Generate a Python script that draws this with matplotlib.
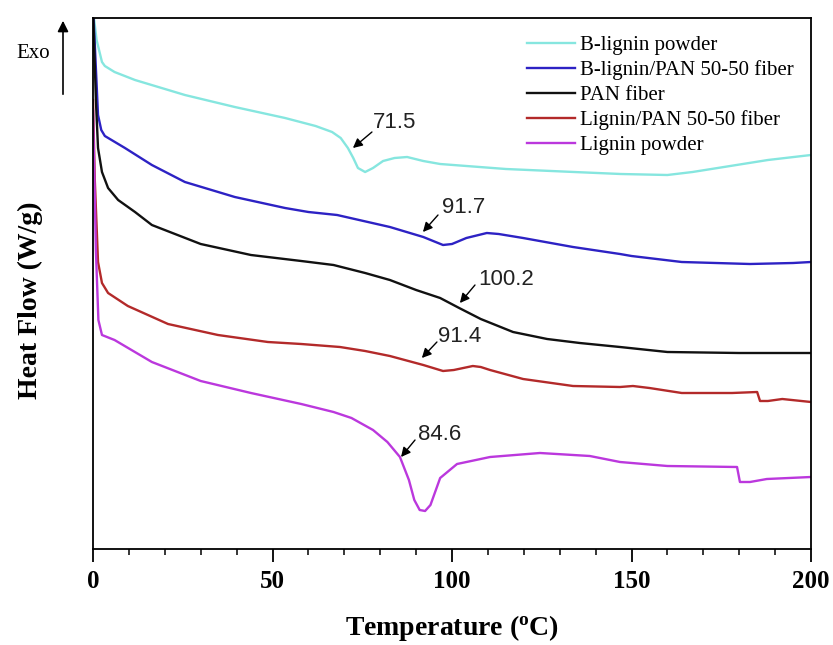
import matplotlib
matplotlib.use("Agg")
import matplotlib.pyplot as plt

# DSC curves (arbitrary heat flow units, exo up)
t_bl = [0, 1, 2.5, 3.3, 6, 11.7, 25.6, 39.5, 53.5, 62, 66.6, 69, 71, 72.5, 73.8, 75.8, 78,
        80.8, 84, 87.5, 92, 96.7, 115, 134, 147, 160, 167, 174, 188, 200]
hf_bl = [5.39, 5.09, 4.87, 4.83, 4.77, 4.69, 4.54, 4.42, 4.31, 4.23, 4.17, 4.11, 4.01, 3.91,
         3.81, 3.77, 3.81, 3.88, 3.91, 3.92, 3.88, 3.85, 3.80, 3.77, 3.75, 3.74, 3.77, 3.81,
         3.89, 3.94]

t_blpan = [0, 0.7, 1.4, 2.3, 3.3, 8.9, 16.4, 25.6, 39.5, 53.5, 60, 68, 82.7, 92, 97.5, 100,
           104, 109.7, 113, 119.8, 133.7, 146.8, 150, 164, 183, 195, 200]
hf_blpan = [5.44, 4.89, 4.34, 4.19, 4.13, 4.01, 3.84, 3.67, 3.52, 3.41, 3.37, 3.34, 3.22,
            3.12, 3.04, 3.05, 3.11, 3.16, 3.15, 3.11, 3.02, 2.95, 2.93, 2.87, 2.85, 2.86, 2.87]

t_pan = [0, 0.8, 1.4, 2.5, 4.2, 7, 11.7, 16.4, 30, 44, 58, 67, 75.8, 82.7, 90, 96.7, 102,
         108, 117, 126.5, 135.6, 146.8, 160, 180, 200]
hf_pan = [5.44, 4.49, 4.01, 3.77, 3.61, 3.49, 3.37, 3.24, 3.05, 2.94, 2.88, 2.84, 2.76, 2.69,
          2.59, 2.51, 2.41, 2.30, 2.17, 2.10, 2.06, 2.02, 1.97, 1.96, 1.96]

t_lpan = [0, 0.5, 1.4, 2.5, 4.2, 9.7, 20.9, 34.8, 48.7, 58, 68.8, 75.8, 82.7, 92, 97.5, 100.5,
          105.8, 108, 110.6, 119.8, 133.7, 146.8, 150.4, 155, 164, 178, 185, 185.8, 188, 192, 200]
hf_lpan = [4.49, 3.69, 2.87, 2.66, 2.56, 2.43, 2.25, 2.14, 2.07, 2.05, 2.02, 1.98, 1.93, 1.84,
           1.78, 1.79, 1.83, 1.82, 1.79, 1.70, 1.63, 1.62, 1.63, 1.61, 1.56, 1.56, 1.57, 1.48,
           1.48, 1.50, 1.47]

t_l = [0, 0.8, 1.5, 2.5, 6, 16.4, 30, 44, 58, 67, 72, 78, 82, 85.5, 88, 89.5, 91, 92.5, 94,
       96.7, 101.4, 110.6, 124.5, 138.4, 146.8, 160, 179.4, 180.2, 183, 187.7, 200]
hf_l = [4.39, 2.99, 2.29, 2.14, 2.09, 1.87, 1.68, 1.56, 1.45, 1.37, 1.31, 1.19, 1.07, 0.92,
        0.69, 0.49, 0.39, 0.38, 0.44, 0.71, 0.85, 0.92, 0.96, 0.93, 0.87, 0.83, 0.82, 0.67,
        0.67, 0.70, 0.72]

labels = ["B-lignin powder", "B-lignin/PAN 50-50 fiber", "PAN fiber",
          "Lignin/PAN 50-50 fiber", "Lignin powder"]
colores = ["#86e6df", "#2d22c4", "#111111", "#b32a2a", "#bb38dd"]

# etiquetas de Tg: texto, posicion del texto, cola y punta de la flecha
tg_txt = ["71.5", "91.7", "100.2", "91.4", "84.6"]
tg_pos = [(78.0, 4.26), (97.2, 3.41), (107.2, 2.69), (96.1, 2.12), (90.5, 1.14)]
tg_tail = [(77.7, 4.17), (96.1, 3.34), (106.4, 2.64), (95.8, 2.07), (89.7, 1.09)]
tg_tip = [(72.4, 4.01), (91.9, 3.17), (102.2, 2.46), (91.6, 1.91), (85.8, 0.92)]

fig = plt.figure(figsize=(8.33, 6.45), dpi=100)
ax = fig.add_axes([93/833, 1-549/645, 718/833, 531/645])

series = [(t_bl, hf_bl), (t_blpan, hf_blpan), (t_pan, hf_pan), (t_lpan, hf_lpan), (t_l, hf_l)]
for (t, hf), c, lab in zip(series, colores, labels):
    ax.plot(t, hf, color=c, lw=1.7, label=lab)

for txt, p, a, b in zip(tg_txt, tg_pos, tg_tail, tg_tip):
    ax.annotate("", xy=b, xytext=a,
                arrowprops=dict(arrowstyle="-|>", color="k", lw=1.0, mutation_scale=14,
                                shrinkA=0, shrinkB=0))
    ax.text(p[0], p[1], txt, fontsize=16, family="Liberation Sans", color="#222222",
            ha="left", va="center")

ax.set_xlim(0, 200)
ax.set_ylim(0, 5.31)
ax.set_yticks([])
ax.set_xticks([0, 50, 100, 150, 200])
ax.set_xticks(range(0, 201, 10), minor=True)
ax.tick_params(axis="x", which="major", direction="out", length=9, width=1.3, pad=6)
ax.tick_params(axis="x", which="minor", direction="out", length=4, width=1.1)
for lab in ax.get_xticklabels():
    lab.set_family("Liberation Serif")
    lab.set_fontweight("bold")
    lab.set_fontsize(18)
for s in ax.spines.values():
    s.set_linewidth(1.3)

ax.legend(loc="upper right", bbox_to_anchor=(1.0, 1.0), frameon=False,
          prop={"family": "Liberation Serif", "size": 15},
          handlelength=2.3, handletextpad=0.2, labelspacing=0.25, borderaxespad=0.45)

fig.text(452/833, 1-628/645, "Temperature ($\\mathregular{^o}$C)", ha="center", va="center",
         fontsize=20, family="Liberation Serif", fontweight="bold")
fig.text(30/833, 1-300/645, "Heat Flow (W/g)", ha="center", va="center", rotation=90,
         fontsize=20, family="Liberation Serif", fontweight="bold")

# flecha Exo
fig.patches.append(matplotlib.patches.FancyArrowPatch(
    (63/833, 1-97/645), (63/833, 1-18/645), transform=fig.transFigure,
    arrowstyle="-|>", mutation_scale=16, color="k", lw=1.2))
fig.text(33/833, 1-53/645, "Exo", ha="center", va="center", fontsize=15,
         family="Liberation Serif")

fig.savefig("out.png", dpi=100)
